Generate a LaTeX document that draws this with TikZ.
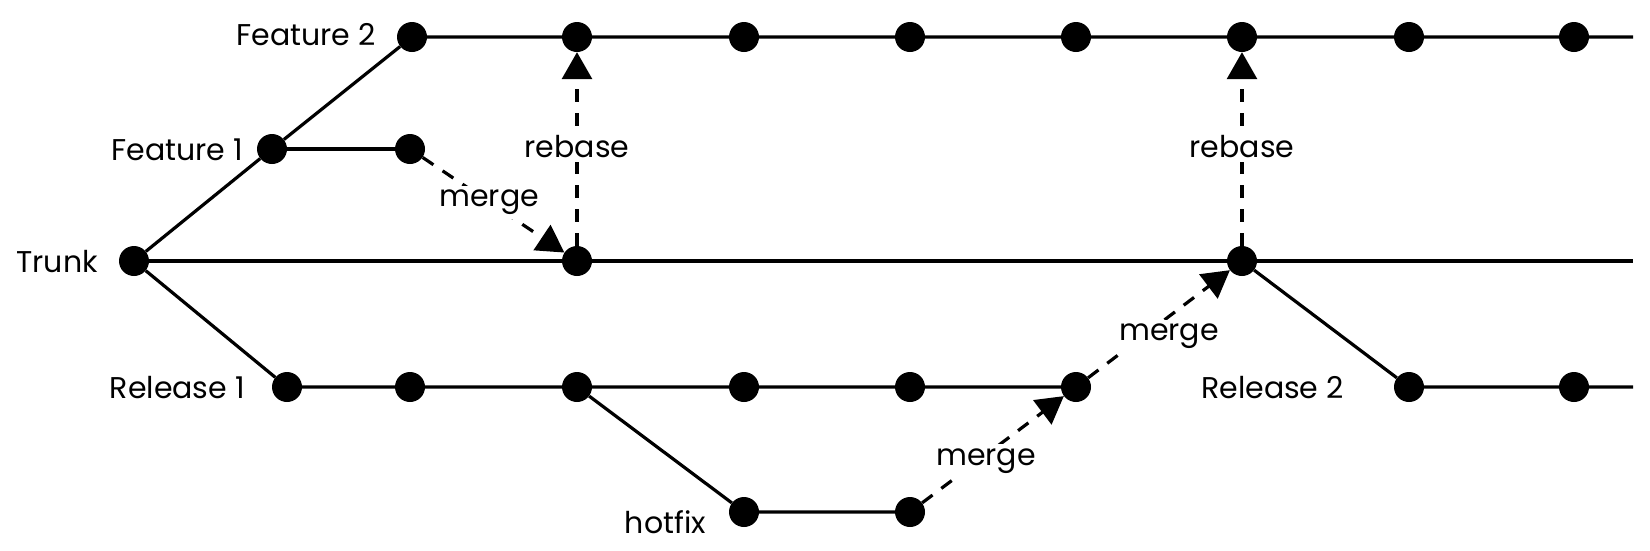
\documentclass[tikz,border=0pt]{standalone}
\usepackage{fontspec}
\setmainfont{Poppins}
\usetikzlibrary{arrows.meta}
\begin{document}
\begin{tikzpicture}[x=1pt,y=-1pt,
  dot/.style={circle,fill=black,minimum size=30pt,inner sep=0pt},
  branch/.style={line width=3.2pt},
  lbl/.style={font=\fontsize{30}{34}\selectfont,inner sep=0pt},
  flow/.style={line width=3.2pt,dash pattern=on 13pt off 11pt,-{Triangle[length=27pt,width=30pt]}},
  tag/.style={font=\fontsize{30}{34}\selectfont,fill=white,inner sep=4pt}]
\useasboundingbox (0,0) rectangle (1650,550);
% trunk
\node[dot] (t0) at (134,261) {};
\node[dot] (t1) at (577,261) {};
\node[dot] (t2) at (1242,261) {};
\coordinate (tend) at (1633,261);
% feature 1
\node[dot] (f1a) at (272,149) {};
\node[dot] (f1b) at (410,149) {};
% feature 2
\node[dot] (f2a) at (412,37) {};
\node[dot] (f2b) at (577,37) {};
\node[dot] (f2c) at (744,37) {};
\node[dot] (f2d) at (910,37) {};
\node[dot] (f2e) at (1076,37) {};
\node[dot] (f2f) at (1242,37) {};
\node[dot] (f2g) at (1409,37) {};
\node[dot] (f2h) at (1574,37) {};
\coordinate (f2end) at (1633,37);
% release 1
\node[dot] (r1a) at (287,387) {};
\node[dot] (r1b) at (410,387) {};
\node[dot] (r1c) at (577,387) {};
\node[dot] (r1d) at (744,387) {};
\node[dot] (r1e) at (910,387) {};
\node[dot] (r1f) at (1076,387) {};
% hotfix
\node[dot] (h1) at (744,512) {};
\node[dot] (h2) at (910,512) {};
% release 2
\node[dot] (r2a) at (1409,387) {};
\node[dot] (r2b) at (1574,387) {};
\coordinate (r2end) at (1633,387);
% labels
\node[lbl,anchor=east] (lf2) at (376,35) {Feature 2};
\node[lbl,anchor=east] (lf1) at (243,150) {Feature 1};
\node[lbl,anchor=east] (ltr) at (98,262) {Trunk};
\node[lbl,anchor=east] (lr1) at (245,388) {Release 1};
\node[lbl,anchor=east] (lr2) at (1344,388) {Release 2};
\node[lbl,anchor=base east] (lhf) at (706,533) {hotfix};
% branches
\draw[branch] (t0) -- (f1a) -- (f2a) -- (f2b) -- (f2c) -- (f2d) -- (f2e) -- (f2f) -- (f2g) -- (f2h) -- (f2end);
\draw[branch] (f1a) -- (f1b);
\draw[branch] (t0) -- (t1) -- (t2) -- (tend);
\draw[branch] (t0) -- (r1a) -- (r1b) -- (r1c) -- (r1d) -- (r1e) -- (r1f);
\draw[branch] (r1c) -- (h1) -- (h2);
\draw[branch] (t2) -- (r2a) -- (r2b) -- (r2end);
% merges and rebases
\draw[flow] (f1b) -- node[tag,pos=0.47] (m1) {merge} (t1);
\draw[flow] (t1) -- node[tag,yshift=2pt] (rb1) {rebase} (f2b);
\draw[flow] (t2) -- node[tag,yshift=2pt] (rb2) {rebase} (f2f);
\draw[flow] (h2) -- node[tag,pos=0.45,yshift=-6pt] (m3) {merge} (r1f);
\draw[flow] (r1f) -- node[tag,pos=0.57,yshift=-20pt] (m2) {merge} (t2);
\end{tikzpicture}
\end{document}
